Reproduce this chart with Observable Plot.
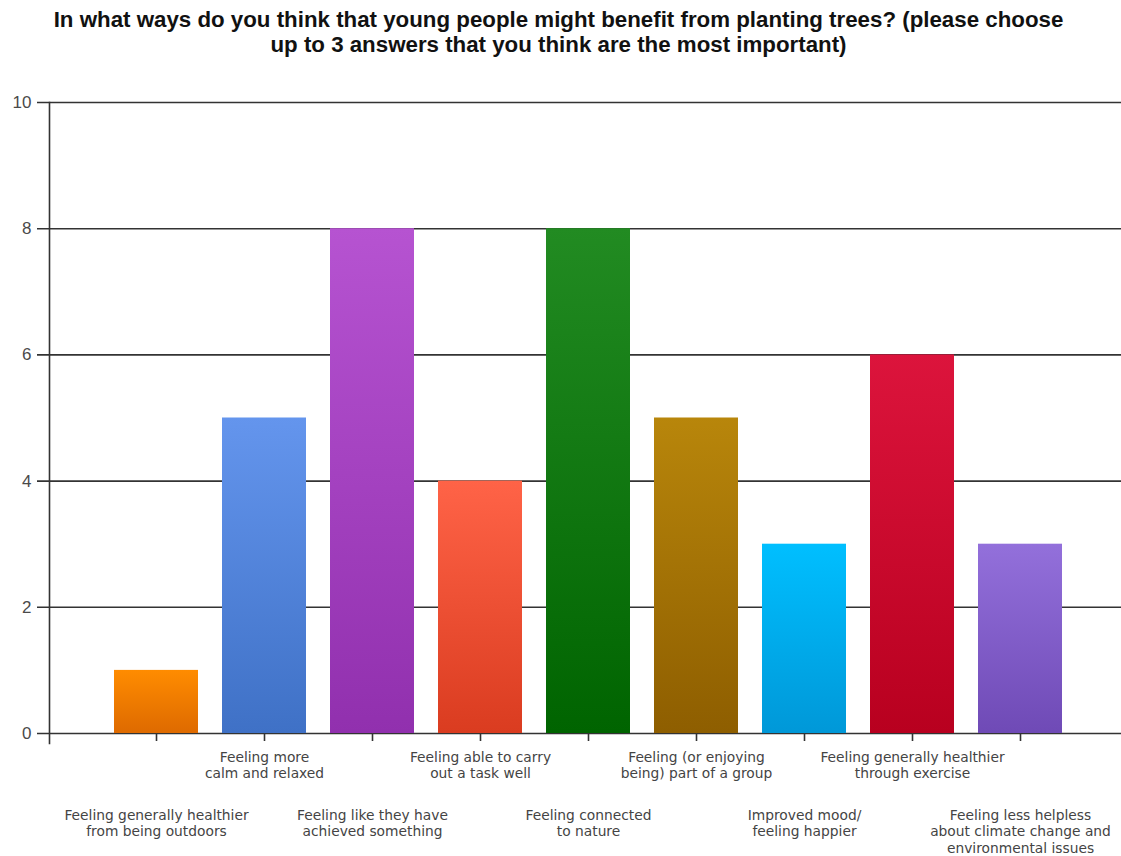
<!DOCTYPE html>
<html>
<head>
<meta charset="utf-8">
<script src="https://cdn.jsdelivr.net/npm/d3@7"></script>
<script src="https://cdn.jsdelivr.net/npm/@observablehq/plot@0.6"></script>
<style>
  html, body { margin: 0; padding: 0; background: #fff; }
  #title {
    width: 1121px; height: 70px; box-sizing: border-box;
    padding-top: 7px; padding-right: 4px;
    font-family: "Liberation Sans", Arial, sans-serif;
    font-weight: bold; font-size: 22.3px; line-height: 25px;
    text-align: center; color: #111;
  }
  #chart svg { display: block; }
</style>
</head>
<body>
<div id="title">In what ways do you think that young people might benefit from planting trees? (please choose<br>up to 3 answers that you think are the most important)</div>
<div id="chart"></div>
<script>
const categories = [
  "Feeling generally healthier\nfrom being outdoors",
  "Feeling more\ncalm and relaxed",
  "Feeling like they have\nachieved something",
  "Feeling able to carry\nout a task well",
  "Feeling connected\nto nature",
  "Feeling (or enjoying\nbeing) part of a group",
  "Improved mood/\nfeeling happier",
  "Feeling generally healthier\nthrough exercise",
  "Feeling less helpless\nabout climate change and\nenvironmental issues"
];
const counts = [1, 5, 8, 4, 8, 5, 3, 6, 3];
const colorsTop = ["#FF8C00", "#6495ED", "#B653D1", "#FF6347", "#228B22", "#B8860B", "#00BFFF", "#DC143C", "#9370DB"];
const colorsBottom = ["#DE6A00", "#3F71C6", "#9130AE", "#DA3C20", "#006400", "#8E5E00", "#0098D8", "#B8001F", "#6F4AB6"];
const yTicks = [0, 2, 4, 6, 8, 10];

const rows = categories.map((c, i) => ({category: c, count: counts[i], fill: `url(#barGrad${i})`}));

const defsMark = () => {
  const g = d3.create("svg:g");
  const defs = g.append("defs");
  colorsTop.forEach((top, i) => {
    const lg = defs.append("linearGradient").attr("id", `barGrad${i}`)
      .attr("x1", 0).attr("y1", 0).attr("x2", 0).attr("y2", 1);
    lg.append("stop").attr("offset", "0%").attr("stop-color", top);
    lg.append("stop").attr("offset", "100%").attr("stop-color", colorsBottom[i]);
  });
  return g.node();
};

const labelFont = "DejaVu Sans, Verdana, sans-serif";

const chart = Plot.plot({
  width: 1121,
  height: 786,
  marginTop: 32,
  marginBottom: 123,
  marginLeft: 49,
  marginRight: 0,
  style: {background: "#fff", overflow: "visible"},
  x: {domain: categories, range: [102, 1074], paddingInner: 0.22, paddingOuter: 0.11, axis: null},
  y: {domain: [0, 10], axis: null},
  color: {type: "identity"},
  marks: [
    defsMark,
    Plot.ruleY(yTicks, {stroke: "#333", strokeWidth: 1.6, insetLeft: -12}),
    Plot.barY(rows, {x: "category", y: "count", fill: "fill"}),
    Plot.frame({anchor: "left", stroke: "#333", strokeWidth: 1.6, insetBottom: -10}),
    Plot.axisY(yTicks, {label: null, tickSize: 0, tickPadding: 18, fontSize: 17, fill: "#4a4a4a", fontFamily: "Liberation Sans, Arial, sans-serif", tickFormat: d => String(d)}),
    Plot.axisX({label: null, tickSize: 8, stroke: "#333", strokeWidth: 1.6, tickFormat: () => ""}),
    Plot.text(categories.filter((d, i) => i % 2 === 1), {
      x: d => d, text: d => d, frameAnchor: "bottom", lineAnchor: "top", dy: 17,
      lineHeight: 1.18, fontSize: 13.8, fill: "#444", fontFamily: labelFont
    }),
    Plot.text(categories.filter((d, i) => i % 2 === 0), {
      x: d => d, text: d => d, frameAnchor: "bottom", lineAnchor: "top", dy: 75,
      lineHeight: 1.18, fontSize: 13.8, fill: "#444", fontFamily: labelFont
    })
  ]
});
document.getElementById("chart").appendChild(chart);
</script>
</body>
</html>
